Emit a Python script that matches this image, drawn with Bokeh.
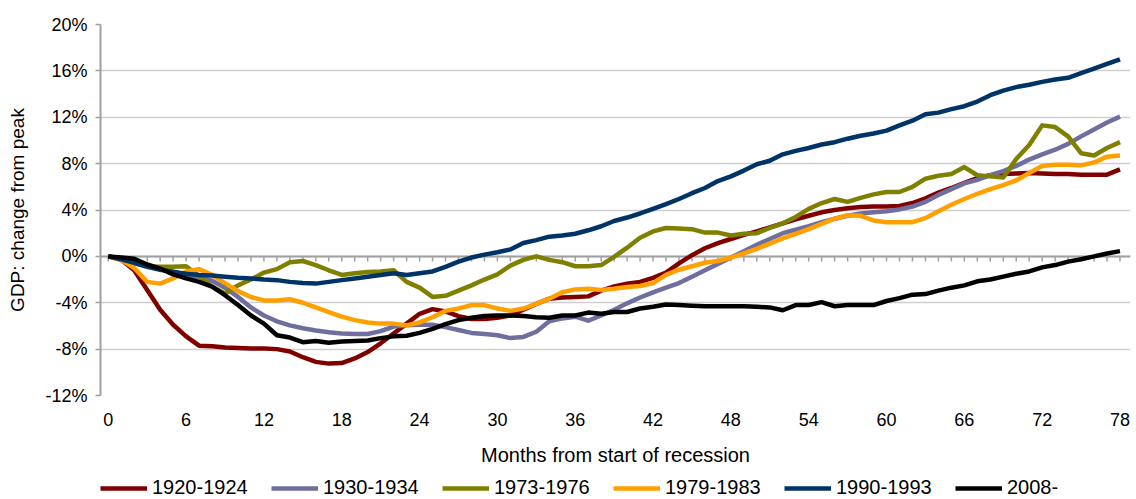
from bokeh.plotting import figure
from bokeh.layouts import column
from bokeh.models import (Range1d, FixedTicker, PrintfTickFormatter,
                          Legend, LegendItem, Span)
from bokeh.embed import file_html
from bokeh.resources import INLINE

months = list(range(79))
x_ticks = list(range(0, 79, 6))
y_ticks = list(range(-12, 21, 4))

series_names = ["1920-1924", "1930-1934", "1973-1976", "1979-1983", "1990-1993", "2008-"]
series_colors = ["#800000", "#6F6F9F", "#808000", "#FFA000", "#003366", "#000000"]

gdp_1920 = [0, -0.3, -1.2, -2.9, -4.6, -5.9, -6.9, -7.7, -7.75, -7.85,
            -7.9, -7.95, -7.95, -8.0, -8.2, -8.7, -9.1, -9.25, -9.2, -8.8,
            -8.25, -7.5, -6.65, -5.8, -4.95, -4.55, -4.75, -5.15, -5.4, -5.4,
            -5.3, -5.1, -4.6, -4.1, -3.65, -3.55, -3.5, -3.45, -2.95, -2.6,
            -2.35, -2.2, -1.85, -1.4, -0.6, 0.1, 0.7, 1.15, 1.5, 1.85,
            2.15, 2.5, 2.85, 3.2, 3.5, 3.8, 4.0, 4.15, 4.25, 4.3,
            4.3, 4.35, 4.6, 5.0, 5.5, 5.9, 6.35, 6.75, 7.0, 7.1,
            7.15, 7.2, 7.15, 7.1, 7.1, 7.05, 7.05, 7.05, 7.5]

gdp_1930 = [0, -0.15, -0.45, -0.8, -1.0, -1.3, -1.6, -1.8, -2.1, -2.7,
            -3.5, -4.4, -5.1, -5.6, -5.95, -6.2, -6.4, -6.55, -6.65, -6.7,
            -6.7, -6.45, -6.05, -5.95, -5.9, -5.9, -6.1, -6.35, -6.6, -6.7,
            -6.8, -7.05, -6.95, -6.5, -5.6, -5.35, -5.2, -5.55, -5.1, -4.6,
            -4.05, -3.55, -3.1, -2.7, -2.3, -1.75, -1.2, -0.65, -0.1, 0.45,
            1.0, 1.5, 2.0, 2.3, 2.6, 2.95, 3.25, 3.5, 3.7, 3.8,
            3.9, 4.05, 4.3, 4.7, 5.3, 5.8, 6.3, 6.6, 7.0, 7.35,
            7.8, 8.35, 8.8, 9.2, 9.7, 10.35, 10.95, 11.55, 12.05]

gdp_1973 = [0, -0.2, -0.6, -0.85, -0.9, -0.9, -0.85, -1.7, -2.6, -3.2,
            -2.5, -2.0, -1.4, -1.1, -0.5, -0.4, -0.75, -1.2, -1.6, -1.45,
            -1.35, -1.3, -1.2, -2.2, -2.7, -3.5, -3.4, -2.95, -2.5, -2.0,
            -1.55, -0.8, -0.3, 0.0, -0.3, -0.5, -0.85, -0.85, -0.75, -0.05,
            0.75, 1.6, 2.15, 2.45, 2.4, 2.35, 2.05, 2.05, 1.8, 1.95,
            2.0, 2.45, 2.85, 3.4, 4.1, 4.6, 4.95, 4.7, 5.05, 5.35,
            5.55, 5.55, 6.0, 6.7, 6.95, 7.1, 7.7, 7.0, 6.9, 6.8,
            8.4, 9.6, 11.3, 11.15, 10.35, 8.9, 8.7, 9.35, 9.85]

gdp_1979 = [0, -0.3, -1.0, -2.2, -2.35, -1.9, -1.3, -1.1, -1.6, -2.3,
            -3.0, -3.5, -3.8, -3.8, -3.7, -4.0, -4.4, -4.8, -5.2, -5.5,
            -5.7, -5.8, -5.8, -5.95, -5.7, -5.25, -4.7, -4.5, -4.2, -4.2,
            -4.5, -4.7, -4.5, -4.1, -3.65, -3.1, -2.85, -2.8, -2.9, -2.8,
            -2.65, -2.55, -2.3, -1.6, -1.15, -0.85, -0.55, -0.4, -0.1, 0.25,
            0.65, 1.1, 1.55, 1.95, 2.35, 2.8, 3.25, 3.55, 3.5, 3.1,
            2.95, 2.95, 2.95, 3.3, 3.9, 4.45, 4.95, 5.4, 5.8, 6.15,
            6.55, 7.2, 7.8, 7.9, 7.9, 7.85, 8.1, 8.6, 8.7]

gdp_1990 = [0, -0.25, -0.55, -0.9, -1.15, -1.35, -1.5, -1.6, -1.65, -1.75,
            -1.85, -1.9, -2.0, -2.05, -2.2, -2.3, -2.35, -2.2, -2.05, -1.9,
            -1.75, -1.6, -1.45, -1.6, -1.45, -1.3, -0.9, -0.45, -0.1, 0.15,
            0.35, 0.6, 1.15, 1.4, 1.7, 1.8, 1.95, 2.25, 2.6, 3.05,
            3.35, 3.7, 4.1, 4.5, 4.95, 5.45, 5.9, 6.5, 6.9, 7.4,
            7.95, 8.25, 8.8, 9.1, 9.35, 9.65, 9.85, 10.15, 10.4, 10.6,
            10.85, 11.3, 11.7, 12.25, 12.4, 12.7, 12.95, 13.35, 13.9, 14.3,
            14.6, 14.8, 15.05, 15.25, 15.4, 15.8, 16.2, 16.6, 17.0]

gdp_2008 = [0, -0.1, -0.2, -0.7, -1.05, -1.55, -1.9, -2.2, -2.6, -3.35,
            -4.2, -5.1, -5.8, -6.8, -7.0, -7.4, -7.3, -7.45, -7.35, -7.3,
            -7.25, -7.05, -6.9, -6.85, -6.6, -6.25, -5.85, -5.5, -5.3, -5.15,
            -5.1, -5.1, -5.15, -5.25, -5.3, -5.1, -5.1, -4.85, -4.95, -4.8,
            -4.8, -4.5, -4.35, -4.15, -4.2, -4.25, -4.3, -4.3, -4.3, -4.3,
            -4.35, -4.4, -4.65, -4.2, -4.2, -3.95, -4.3, -4.2, -4.2, -4.2,
            -3.85, -3.6, -3.3, -3.25, -2.95, -2.7, -2.5, -2.15, -2.0, -1.75,
            -1.5, -1.3, -0.95, -0.75, -0.45, -0.25, 0.0, 0.25, 0.45]

series_values = [gdp_1920, gdp_1930, gdp_1973, gdp_1979, gdp_1990, gdp_2008]

FONT = "Liberation Sans"
AXIS_GRAY = "#A0A0A0"
GRID_GRAY = "#CFCFCF"
LINE_W = 4.5

p = figure(width=1136, height=472, output_backend="svg", toolbar_location=None,
           x_range=Range1d(-0.6, 78.81), y_range=Range1d(-12, 20),
           min_border_left=100, min_border_right=6, min_border_top=24,
           min_border_bottom=77)
p.outline_line_color = None
p.background_fill_color = "white"
p.border_fill_color = "white"

# bottom axis: labels only
xa = p.xaxis[0]
xa.ticker = FixedTicker(ticks=x_ticks)
xa.axis_line_color = None
xa.major_tick_line_color = None
xa.minor_tick_line_color = None
xa.major_tick_out = 0
xa.minor_tick_out = 0
xa.major_label_standoff = 17
xa.major_label_text_font = FONT
xa.major_label_text_font_size = "18px"
xa.major_label_text_color = "#000000"
xa.axis_label = "Months from start of recession"
xa.axis_label_standoff = 15
xa.axis_label_text_font = FONT
xa.axis_label_text_font_size = "20px"
xa.axis_label_text_font_style = "normal"
xa.axis_label_text_color = "#000000"

ya = p.yaxis[0]
ya.ticker = FixedTicker(ticks=y_ticks)
ya.formatter = PrintfTickFormatter(format="%d%%")
ya.axis_line_color = AXIS_GRAY
ya.axis_line_width = 2
ya.major_tick_line_color = AXIS_GRAY
ya.major_tick_line_width = 1.5
ya.major_tick_out = 5
ya.major_tick_in = 0
ya.minor_tick_line_color = None
ya.minor_tick_out = 0
ya.major_label_standoff = 8
ya.major_label_text_font = FONT
ya.major_label_text_font_size = "18px"
ya.major_label_text_color = "#000000"
ya.axis_label = "GDP: change from peak"
ya.axis_label_standoff = 14
ya.axis_label_text_font = FONT
ya.axis_label_text_font_size = "19px"
ya.axis_label_text_font_style = "normal"
ya.axis_label_text_color = "#000000"

p.xgrid.visible = False
p.ygrid.ticker = FixedTicker(ticks=y_ticks)
p.ygrid.grid_line_color = GRID_GRAY
p.ygrid.grid_line_width = 1.5

# axis line at 0% with a small tick below it for every month
zero_line = Span(location=0, dimension="width", line_color=AXIS_GRAY,
                 line_width=2, level="underlay")
p.add_layout(zero_line)
p.segment(x0=months, y0=[0] * len(months), x1=months, y1=[-0.45] * len(months),
          line_color=AXIS_GRAY, line_width=1.5, level="underlay")

for name, color, vals in zip(series_names, series_colors, series_values):
    p.line(months, vals, line_color=color, line_width=LINE_W, line_join="round")

# legend strip below the chart (its own small figure; the series lie outside its view)
pl = figure(width=1136, height=27, output_backend="svg", toolbar_location=None,
            x_range=Range1d(0, 78), y_range=Range1d(1000, 1001),
            x_axis_location=None, y_axis_location=None,
            min_border_left=0, min_border_right=0, min_border_top=0,
            min_border_bottom=0)
pl.outline_line_color = None
pl.xgrid.visible = False
pl.ygrid.visible = False
pl.background_fill_color = "white"
pl.border_fill_color = "white"

items = []
for name, color, vals in zip(series_names, series_colors, series_values):
    r = pl.line(months, vals, line_color=color, line_width=LINE_W)
    items.append(LegendItem(label=name, renderers=[r]))

legend = Legend(items=items, orientation="horizontal", location=(0, 0),
                glyph_width=47, glyph_height=20, label_standoff=5, label_width=113,
                spacing=6, padding=0, margin=0, border_line_color=None,
                background_fill_alpha=0, label_text_font=FONT,
                label_text_font_size="20px", label_text_color="#000000")
pl.add_layout(legend)

open("out.html", "w").write(file_html(column(p, pl, spacing=0), INLINE))
